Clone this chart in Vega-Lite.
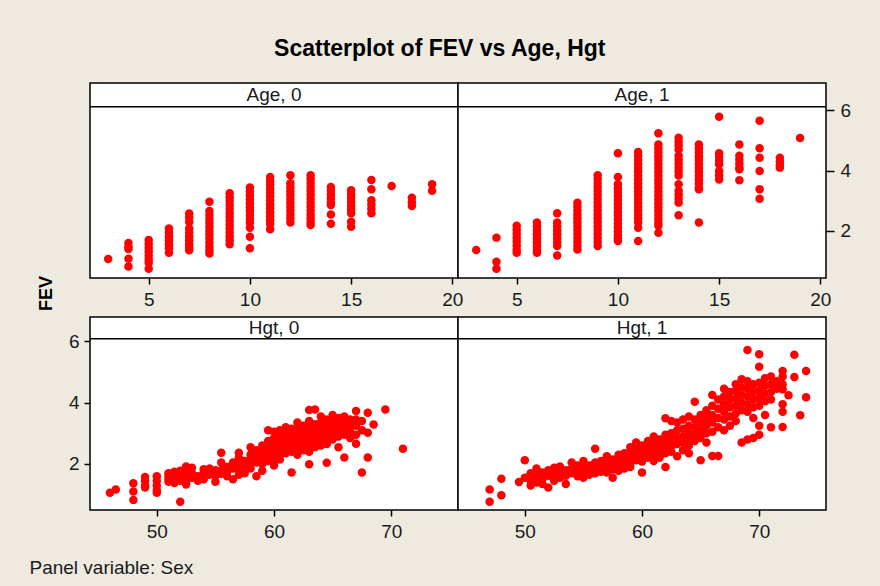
{
"$schema": "https://vega.github.io/schema/vega-lite/v6.json",
"background": "#EEEAE0",
"padding": {"left": 28, "top": 38, "right": 31, "bottom": 10},
"title": {"text": "Scatterplot of FEV vs Age, Hgt", "anchor": "middle", "frame": "bounds", "offset": 3, "baseline": "alphabetic", "font": "Liberation Sans", "fontSize": 23, "fontWeight": "bold", "color": "#000000"},
"datasets": {
"age": [
{"Sex":0,"Age":3,"FEV":1.07},
{"Sex":0,"Age":4,"FEV":1.60},{"Sex":0,"Age":4,"FEV":1.48},{"Sex":0,"Age":4,"FEV":1.40},{"Sex":0,"Age":4,"FEV":1.08},{"Sex":0,"Age":4,"FEV":0.82},
{"Sex":0,"Age":5,"FEV":1.70},{"Sex":0,"Age":5,"FEV":1.57},{"Sex":0,"Age":5,"FEV":1.44},{"Sex":0,"Age":5,"FEV":1.31},{"Sex":0,"Age":5,"FEV":1.18},{"Sex":0,"Age":5,"FEV":1.05},{"Sex":0,"Age":5,"FEV":0.95},{"Sex":0,"Age":5,"FEV":0.75},
{"Sex":0,"Age":6,"FEV":2.08},{"Sex":0,"Age":6,"FEV":1.95},{"Sex":0,"Age":6,"FEV":1.82},{"Sex":0,"Age":6,"FEV":1.69},{"Sex":0,"Age":6,"FEV":1.56},{"Sex":0,"Age":6,"FEV":1.43},{"Sex":0,"Age":6,"FEV":1.28},
{"Sex":0,"Age":7,"FEV":2.58},{"Sex":0,"Age":7,"FEV":2.45},{"Sex":0,"Age":7,"FEV":2.30},{"Sex":0,"Age":7,"FEV":2.08},{"Sex":0,"Age":7,"FEV":1.95},{"Sex":0,"Age":7,"FEV":1.82},{"Sex":0,"Age":7,"FEV":1.69},{"Sex":0,"Age":7,"FEV":1.56},{"Sex":0,"Age":7,"FEV":1.45},{"Sex":0,"Age":7,"FEV":1.36},
{"Sex":0,"Age":8,"FEV":2.97},{"Sex":0,"Age":8,"FEV":2.66},{"Sex":0,"Age":8,"FEV":2.53},{"Sex":0,"Age":8,"FEV":2.40},{"Sex":0,"Age":8,"FEV":2.27},{"Sex":0,"Age":8,"FEV":2.14},{"Sex":0,"Age":8,"FEV":2.01},{"Sex":0,"Age":8,"FEV":1.88},{"Sex":0,"Age":8,"FEV":1.75},{"Sex":0,"Age":8,"FEV":1.62},{"Sex":0,"Age":8,"FEV":1.49},{"Sex":0,"Age":8,"FEV":1.36},{"Sex":0,"Age":8,"FEV":1.25},
{"Sex":0,"Age":9,"FEV":3.25},{"Sex":0,"Age":9,"FEV":3.12},{"Sex":0,"Age":9,"FEV":2.99},{"Sex":0,"Age":9,"FEV":2.86},{"Sex":0,"Age":9,"FEV":2.73},{"Sex":0,"Age":9,"FEV":2.60},{"Sex":0,"Age":9,"FEV":2.47},{"Sex":0,"Age":9,"FEV":2.34},{"Sex":0,"Age":9,"FEV":2.21},{"Sex":0,"Age":9,"FEV":2.08},{"Sex":0,"Age":9,"FEV":1.95},{"Sex":0,"Age":9,"FEV":1.82},{"Sex":0,"Age":9,"FEV":1.69},{"Sex":0,"Age":9,"FEV":1.56},
{"Sex":0,"Age":10,"FEV":3.44},{"Sex":0,"Age":10,"FEV":3.31},{"Sex":0,"Age":10,"FEV":3.18},{"Sex":0,"Age":10,"FEV":3.05},{"Sex":0,"Age":10,"FEV":2.92},{"Sex":0,"Age":10,"FEV":2.79},{"Sex":0,"Age":10,"FEV":2.66},{"Sex":0,"Age":10,"FEV":2.53},{"Sex":0,"Age":10,"FEV":2.40},{"Sex":0,"Age":10,"FEV":2.27},{"Sex":0,"Age":10,"FEV":2.11},{"Sex":0,"Age":10,"FEV":1.81},{"Sex":0,"Age":10,"FEV":1.43},
{"Sex":0,"Age":11,"FEV":3.79},{"Sex":0,"Age":11,"FEV":3.66},{"Sex":0,"Age":11,"FEV":3.53},{"Sex":0,"Age":11,"FEV":3.40},{"Sex":0,"Age":11,"FEV":3.27},{"Sex":0,"Age":11,"FEV":3.14},{"Sex":0,"Age":11,"FEV":3.01},{"Sex":0,"Age":11,"FEV":2.88},{"Sex":0,"Age":11,"FEV":2.75},{"Sex":0,"Age":11,"FEV":2.62},{"Sex":0,"Age":11,"FEV":2.49},{"Sex":0,"Age":11,"FEV":2.36},{"Sex":0,"Age":11,"FEV":2.23},{"Sex":0,"Age":11,"FEV":2.06},
{"Sex":0,"Age":12,"FEV":3.85},{"Sex":0,"Age":12,"FEV":3.58},{"Sex":0,"Age":12,"FEV":3.45},{"Sex":0,"Age":12,"FEV":3.32},{"Sex":0,"Age":12,"FEV":3.19},{"Sex":0,"Age":12,"FEV":3.06},{"Sex":0,"Age":12,"FEV":2.93},{"Sex":0,"Age":12,"FEV":2.80},{"Sex":0,"Age":12,"FEV":2.67},{"Sex":0,"Age":12,"FEV":2.54},{"Sex":0,"Age":12,"FEV":2.41},{"Sex":0,"Age":12,"FEV":2.28},
{"Sex":0,"Age":13,"FEV":3.85},{"Sex":0,"Age":13,"FEV":3.72},{"Sex":0,"Age":13,"FEV":3.59},{"Sex":0,"Age":13,"FEV":3.46},{"Sex":0,"Age":13,"FEV":3.33},{"Sex":0,"Age":13,"FEV":3.20},{"Sex":0,"Age":13,"FEV":3.07},{"Sex":0,"Age":13,"FEV":2.94},{"Sex":0,"Age":13,"FEV":2.81},{"Sex":0,"Age":13,"FEV":2.68},{"Sex":0,"Age":13,"FEV":2.55},{"Sex":0,"Age":13,"FEV":2.42},{"Sex":0,"Age":13,"FEV":2.30},{"Sex":0,"Age":13,"FEV":2.20},
{"Sex":0,"Age":14,"FEV":3.46},{"Sex":0,"Age":14,"FEV":3.33},{"Sex":0,"Age":14,"FEV":3.20},{"Sex":0,"Age":14,"FEV":3.07},{"Sex":0,"Age":14,"FEV":2.94},{"Sex":0,"Age":14,"FEV":2.86},{"Sex":0,"Age":14,"FEV":2.55},{"Sex":0,"Age":14,"FEV":2.24},
{"Sex":0,"Age":15,"FEV":3.35},{"Sex":0,"Age":15,"FEV":3.22},{"Sex":0,"Age":15,"FEV":3.09},{"Sex":0,"Age":15,"FEV":2.96},{"Sex":0,"Age":15,"FEV":2.83},{"Sex":0,"Age":15,"FEV":2.70},{"Sex":0,"Age":15,"FEV":2.59},{"Sex":0,"Age":15,"FEV":2.31},{"Sex":0,"Age":15,"FEV":2.14},
{"Sex":0,"Age":16,"FEV":3.69},{"Sex":0,"Age":16,"FEV":3.38},{"Sex":0,"Age":16,"FEV":3.02},{"Sex":0,"Age":16,"FEV":2.88},{"Sex":0,"Age":16,"FEV":2.74},{"Sex":0,"Age":16,"FEV":2.59},
{"Sex":0,"Age":17,"FEV":3.49},
{"Sex":0,"Age":18,"FEV":3.10},{"Sex":0,"Age":18,"FEV":2.95},{"Sex":0,"Age":18,"FEV":2.83},
{"Sex":0,"Age":19,"FEV":3.55},{"Sex":0,"Age":19,"FEV":3.33},
{"Sex":1,"Age":3,"FEV":1.37},
{"Sex":1,"Age":4,"FEV":1.78},{"Sex":1,"Age":4,"FEV":0.98},{"Sex":1,"Age":4,"FEV":0.75},
{"Sex":1,"Age":5,"FEV":2.17},{"Sex":1,"Age":5,"FEV":2.04},{"Sex":1,"Age":5,"FEV":1.91},{"Sex":1,"Age":5,"FEV":1.78},{"Sex":1,"Age":5,"FEV":1.65},{"Sex":1,"Age":5,"FEV":1.52},{"Sex":1,"Age":5,"FEV":1.39},{"Sex":1,"Age":5,"FEV":1.28},
{"Sex":1,"Age":6,"FEV":2.28},{"Sex":1,"Age":6,"FEV":2.15},{"Sex":1,"Age":6,"FEV":2.02},{"Sex":1,"Age":6,"FEV":1.89},{"Sex":1,"Age":6,"FEV":1.76},{"Sex":1,"Age":6,"FEV":1.63},{"Sex":1,"Age":6,"FEV":1.50},{"Sex":1,"Age":6,"FEV":1.38},{"Sex":1,"Age":6,"FEV":1.28},
{"Sex":1,"Age":7,"FEV":2.59},{"Sex":1,"Age":7,"FEV":2.28},{"Sex":1,"Age":7,"FEV":2.15},{"Sex":1,"Age":7,"FEV":2.02},{"Sex":1,"Age":7,"FEV":1.89},{"Sex":1,"Age":7,"FEV":1.76},{"Sex":1,"Age":7,"FEV":1.63},{"Sex":1,"Age":7,"FEV":1.50},{"Sex":1,"Age":7,"FEV":1.19},
{"Sex":1,"Age":8,"FEV":2.94},{"Sex":1,"Age":8,"FEV":2.81},{"Sex":1,"Age":8,"FEV":2.68},{"Sex":1,"Age":8,"FEV":2.55},{"Sex":1,"Age":8,"FEV":2.42},{"Sex":1,"Age":8,"FEV":2.29},{"Sex":1,"Age":8,"FEV":2.16},{"Sex":1,"Age":8,"FEV":2.03},{"Sex":1,"Age":8,"FEV":1.90},{"Sex":1,"Age":8,"FEV":1.77},{"Sex":1,"Age":8,"FEV":1.64},{"Sex":1,"Age":8,"FEV":1.51},{"Sex":1,"Age":8,"FEV":1.39},
{"Sex":1,"Age":9,"FEV":3.85},{"Sex":1,"Age":9,"FEV":3.72},{"Sex":1,"Age":9,"FEV":3.59},{"Sex":1,"Age":9,"FEV":3.46},{"Sex":1,"Age":9,"FEV":3.33},{"Sex":1,"Age":9,"FEV":3.20},{"Sex":1,"Age":9,"FEV":3.07},{"Sex":1,"Age":9,"FEV":2.94},{"Sex":1,"Age":9,"FEV":2.81},{"Sex":1,"Age":9,"FEV":2.68},{"Sex":1,"Age":9,"FEV":2.55},{"Sex":1,"Age":9,"FEV":2.42},{"Sex":1,"Age":9,"FEV":2.29},{"Sex":1,"Age":9,"FEV":2.16},{"Sex":1,"Age":9,"FEV":2.03},{"Sex":1,"Age":9,"FEV":1.90},{"Sex":1,"Age":9,"FEV":1.77},{"Sex":1,"Age":9,"FEV":1.64},{"Sex":1,"Age":9,"FEV":1.50},
{"Sex":1,"Age":10,"FEV":4.58},{"Sex":1,"Age":10,"FEV":3.79},{"Sex":1,"Age":10,"FEV":3.55},{"Sex":1,"Age":10,"FEV":3.42},{"Sex":1,"Age":10,"FEV":3.29},{"Sex":1,"Age":10,"FEV":3.16},{"Sex":1,"Age":10,"FEV":3.03},{"Sex":1,"Age":10,"FEV":2.90},{"Sex":1,"Age":10,"FEV":2.77},{"Sex":1,"Age":10,"FEV":2.64},{"Sex":1,"Age":10,"FEV":2.51},{"Sex":1,"Age":10,"FEV":2.38},{"Sex":1,"Age":10,"FEV":2.25},{"Sex":1,"Age":10,"FEV":2.12},{"Sex":1,"Age":10,"FEV":1.99},{"Sex":1,"Age":10,"FEV":1.86},{"Sex":1,"Age":10,"FEV":1.75},{"Sex":1,"Age":10,"FEV":1.67},
{"Sex":1,"Age":11,"FEV":4.62},{"Sex":1,"Age":11,"FEV":4.49},{"Sex":1,"Age":11,"FEV":4.36},{"Sex":1,"Age":11,"FEV":4.23},{"Sex":1,"Age":11,"FEV":4.10},{"Sex":1,"Age":11,"FEV":3.97},{"Sex":1,"Age":11,"FEV":3.84},{"Sex":1,"Age":11,"FEV":3.71},{"Sex":1,"Age":11,"FEV":3.58},{"Sex":1,"Age":11,"FEV":3.45},{"Sex":1,"Age":11,"FEV":3.32},{"Sex":1,"Age":11,"FEV":3.19},{"Sex":1,"Age":11,"FEV":3.06},{"Sex":1,"Age":11,"FEV":2.93},{"Sex":1,"Age":11,"FEV":2.80},{"Sex":1,"Age":11,"FEV":2.67},{"Sex":1,"Age":11,"FEV":2.54},{"Sex":1,"Age":11,"FEV":2.41},{"Sex":1,"Age":11,"FEV":2.28},{"Sex":1,"Age":11,"FEV":2.11},{"Sex":1,"Age":11,"FEV":1.67},
{"Sex":1,"Age":12,"FEV":5.24},{"Sex":1,"Age":12,"FEV":4.87},{"Sex":1,"Age":12,"FEV":4.74},{"Sex":1,"Age":12,"FEV":4.61},{"Sex":1,"Age":12,"FEV":4.48},{"Sex":1,"Age":12,"FEV":4.35},{"Sex":1,"Age":12,"FEV":4.22},{"Sex":1,"Age":12,"FEV":4.09},{"Sex":1,"Age":12,"FEV":3.96},{"Sex":1,"Age":12,"FEV":3.83},{"Sex":1,"Age":12,"FEV":3.70},{"Sex":1,"Age":12,"FEV":3.57},{"Sex":1,"Age":12,"FEV":3.44},{"Sex":1,"Age":12,"FEV":3.31},{"Sex":1,"Age":12,"FEV":3.18},{"Sex":1,"Age":12,"FEV":3.05},{"Sex":1,"Age":12,"FEV":2.92},{"Sex":1,"Age":12,"FEV":2.79},{"Sex":1,"Age":12,"FEV":2.66},{"Sex":1,"Age":12,"FEV":2.53},{"Sex":1,"Age":12,"FEV":2.40},{"Sex":1,"Age":12,"FEV":2.27},{"Sex":1,"Age":12,"FEV":2.17},{"Sex":1,"Age":12,"FEV":1.94},
{"Sex":1,"Age":13,"FEV":5.09},{"Sex":1,"Age":13,"FEV":4.96},{"Sex":1,"Age":13,"FEV":4.83},{"Sex":1,"Age":13,"FEV":4.70},{"Sex":1,"Age":13,"FEV":4.49},{"Sex":1,"Age":13,"FEV":4.36},{"Sex":1,"Age":13,"FEV":4.23},{"Sex":1,"Age":13,"FEV":4.10},{"Sex":1,"Age":13,"FEV":3.97},{"Sex":1,"Age":13,"FEV":3.84},{"Sex":1,"Age":13,"FEV":3.55},{"Sex":1,"Age":13,"FEV":3.33},{"Sex":1,"Age":13,"FEV":3.20},{"Sex":1,"Age":13,"FEV":3.07},{"Sex":1,"Age":13,"FEV":2.94},{"Sex":1,"Age":13,"FEV":2.52},
{"Sex":1,"Age":14,"FEV":4.87},{"Sex":1,"Age":14,"FEV":4.74},{"Sex":1,"Age":14,"FEV":4.61},{"Sex":1,"Age":14,"FEV":4.48},{"Sex":1,"Age":14,"FEV":4.35},{"Sex":1,"Age":14,"FEV":4.22},{"Sex":1,"Age":14,"FEV":4.09},{"Sex":1,"Age":14,"FEV":3.96},{"Sex":1,"Age":14,"FEV":3.83},{"Sex":1,"Age":14,"FEV":3.70},{"Sex":1,"Age":14,"FEV":3.57},{"Sex":1,"Age":14,"FEV":3.44},{"Sex":1,"Age":14,"FEV":3.38},{"Sex":1,"Age":14,"FEV":2.28},
{"Sex":1,"Age":15,"FEV":5.79},{"Sex":1,"Age":15,"FEV":4.58},{"Sex":1,"Age":15,"FEV":4.45},{"Sex":1,"Age":15,"FEV":4.32},{"Sex":1,"Age":15,"FEV":4.21},{"Sex":1,"Age":15,"FEV":3.99},{"Sex":1,"Age":15,"FEV":3.85},{"Sex":1,"Age":15,"FEV":3.71},
{"Sex":1,"Age":16,"FEV":4.87},{"Sex":1,"Age":16,"FEV":4.49},{"Sex":1,"Age":16,"FEV":4.36},{"Sex":1,"Age":16,"FEV":4.23},{"Sex":1,"Age":16,"FEV":4.10},{"Sex":1,"Age":16,"FEV":4.05},{"Sex":1,"Age":16,"FEV":3.68},
{"Sex":1,"Age":17,"FEV":5.65},{"Sex":1,"Age":17,"FEV":4.74},{"Sex":1,"Age":17,"FEV":4.43},{"Sex":1,"Age":17,"FEV":3.99},{"Sex":1,"Age":17,"FEV":3.38},{"Sex":1,"Age":17,"FEV":3.07},
{"Sex":1,"Age":18,"FEV":4.43},{"Sex":1,"Age":18,"FEV":4.30},{"Sex":1,"Age":18,"FEV":4.18},{"Sex":1,"Age":18,"FEV":4.10},
{"Sex":1,"Age":19,"FEV":5.08}
],
"hgt": [
{"Sex":0,"Hgt":46,"FEV":1.06},{"Sex":0,"Hgt":46.5,"FEV":1.17},
{"Sex":0,"Hgt":48,"FEV":1.37},{"Sex":0,"Hgt":48,"FEV":1.10},{"Sex":0,"Hgt":48,"FEV":0.83},
{"Sex":0,"Hgt":49,"FEV":1.58},{"Sex":0,"Hgt":49,"FEV":1.45},{"Sex":0,"Hgt":49,"FEV":1.30},{"Sex":0,"Hgt":49,"FEV":1.23},
{"Sex":0,"Hgt":50,"FEV":1.60},{"Sex":0,"Hgt":50,"FEV":1.45},{"Sex":0,"Hgt":50,"FEV":1.30},{"Sex":0,"Hgt":50,"FEV":1.15},{"Sex":0,"Hgt":50,"FEV":1.06},
{"Sex":0,"Hgt":51,"FEV":1.70},{"Sex":0,"Hgt":51,"FEV":1.60},{"Sex":0,"Hgt":51,"FEV":1.50},{"Sex":0,"Hgt":51,"FEV":1.42},
{"Sex":0,"Hgt":51.5,"FEV":1.75},{"Sex":0,"Hgt":51.5,"FEV":1.55},{"Sex":0,"Hgt":51.5,"FEV":1.38},
{"Sex":0,"Hgt":52,"FEV":1.78},{"Sex":0,"Hgt":52,"FEV":1.62},{"Sex":0,"Hgt":52,"FEV":1.45},{"Sex":0,"Hgt":52,"FEV":0.77},
{"Sex":0,"Hgt":52.5,"FEV":1.92},{"Sex":0,"Hgt":52.5,"FEV":1.80},{"Sex":0,"Hgt":52.5,"FEV":1.60},{"Sex":0,"Hgt":52.5,"FEV":1.40},{"Sex":0,"Hgt":52.5,"FEV":1.33},
{"Sex":0,"Hgt":53,"FEV":1.88},{"Sex":0,"Hgt":53,"FEV":1.70},{"Sex":0,"Hgt":53,"FEV":1.55},
{"Sex":0,"Hgt":53.5,"FEV":1.60},{"Sex":0,"Hgt":53.5,"FEV":1.45},
{"Sex":0,"Hgt":54,"FEV":1.83},{"Sex":0,"Hgt":54,"FEV":1.72},{"Sex":0,"Hgt":54,"FEV":1.50},
{"Sex":0,"Hgt":54.5,"FEV":1.85},{"Sex":0,"Hgt":54.5,"FEV":1.65},
{"Sex":0,"Hgt":55,"FEV":1.80},{"Sex":0,"Hgt":55,"FEV":1.62},{"Sex":0,"Hgt":55,"FEV":1.42},
{"Sex":0,"Hgt":55.5,"FEV":2.37},{"Sex":0,"Hgt":55.5,"FEV":2.05},{"Sex":0,"Hgt":55.5,"FEV":1.80},{"Sex":0,"Hgt":55.5,"FEV":1.68},
{"Sex":0,"Hgt":56,"FEV":1.90},{"Sex":0,"Hgt":56,"FEV":1.75},{"Sex":0,"Hgt":56,"FEV":1.60},
{"Sex":0,"Hgt":56.5,"FEV":2.05},{"Sex":0,"Hgt":56.5,"FEV":1.85},{"Sex":0,"Hgt":56.5,"FEV":1.50},
{"Sex":0,"Hgt":57,"FEV":2.37},{"Sex":0,"Hgt":57,"FEV":2.20},{"Sex":0,"Hgt":57,"FEV":2.00},{"Sex":0,"Hgt":57,"FEV":1.82},{"Sex":0,"Hgt":57,"FEV":1.65},
{"Sex":0,"Hgt":57.5,"FEV":2.10},{"Sex":0,"Hgt":57.5,"FEV":1.95},{"Sex":0,"Hgt":57.5,"FEV":1.70},
{"Sex":0,"Hgt":58,"FEV":2.55},{"Sex":0,"Hgt":58,"FEV":2.30},{"Sex":0,"Hgt":58,"FEV":2.15},{"Sex":0,"Hgt":58,"FEV":2.00},{"Sex":0,"Hgt":58,"FEV":1.85},
{"Sex":0,"Hgt":58.5,"FEV":2.45},{"Sex":0,"Hgt":58.5,"FEV":2.25},{"Sex":0,"Hgt":58.5,"FEV":2.05},{"Sex":0,"Hgt":58.5,"FEV":1.60},
{"Sex":0,"Hgt":59,"FEV":2.60},{"Sex":0,"Hgt":59,"FEV":2.40},{"Sex":0,"Hgt":59,"FEV":2.20},{"Sex":0,"Hgt":59,"FEV":2.00},{"Sex":0,"Hgt":59,"FEV":1.78},
{"Sex":0,"Hgt":59.5,"FEV":3.10},{"Sex":0,"Hgt":59.5,"FEV":2.75},{"Sex":0,"Hgt":59.5,"FEV":2.55},{"Sex":0,"Hgt":59.5,"FEV":2.35},{"Sex":0,"Hgt":59.5,"FEV":2.10},
{"Sex":0,"Hgt":60,"FEV":3.05},{"Sex":0,"Hgt":60,"FEV":2.85},{"Sex":0,"Hgt":60,"FEV":2.65},{"Sex":0,"Hgt":60,"FEV":2.45},{"Sex":0,"Hgt":60,"FEV":2.25},{"Sex":0,"Hgt":60,"FEV":2.05},{"Sex":0,"Hgt":60,"FEV":1.95},
{"Sex":0,"Hgt":60.5,"FEV":3.10},{"Sex":0,"Hgt":60.5,"FEV":2.90},{"Sex":0,"Hgt":60.5,"FEV":2.70},{"Sex":0,"Hgt":60.5,"FEV":2.50},{"Sex":0,"Hgt":60.5,"FEV":2.30},{"Sex":0,"Hgt":60.5,"FEV":2.15},
{"Sex":0,"Hgt":61,"FEV":3.20},{"Sex":0,"Hgt":61,"FEV":3.00},{"Sex":0,"Hgt":61,"FEV":2.80},{"Sex":0,"Hgt":61,"FEV":2.65},{"Sex":0,"Hgt":61,"FEV":2.50},{"Sex":0,"Hgt":61,"FEV":2.35},
{"Sex":0,"Hgt":61.5,"FEV":3.15},{"Sex":0,"Hgt":61.5,"FEV":2.95},{"Sex":0,"Hgt":61.5,"FEV":2.78},{"Sex":0,"Hgt":61.5,"FEV":2.60},{"Sex":0,"Hgt":61.5,"FEV":2.40},{"Sex":0,"Hgt":61.5,"FEV":1.72},
{"Sex":0,"Hgt":62,"FEV":3.35},{"Sex":0,"Hgt":62,"FEV":3.15},{"Sex":0,"Hgt":62,"FEV":3.00},{"Sex":0,"Hgt":62,"FEV":2.85},{"Sex":0,"Hgt":62,"FEV":2.70},{"Sex":0,"Hgt":62,"FEV":2.55},{"Sex":0,"Hgt":62,"FEV":2.30},
{"Sex":0,"Hgt":62.5,"FEV":3.25},{"Sex":0,"Hgt":62.5,"FEV":3.05},{"Sex":0,"Hgt":62.5,"FEV":2.90},{"Sex":0,"Hgt":62.5,"FEV":2.75},{"Sex":0,"Hgt":62.5,"FEV":2.60},{"Sex":0,"Hgt":62.5,"FEV":2.45},
{"Sex":0,"Hgt":63,"FEV":3.76},{"Sex":0,"Hgt":63,"FEV":3.40},{"Sex":0,"Hgt":63,"FEV":3.20},{"Sex":0,"Hgt":63,"FEV":3.00},{"Sex":0,"Hgt":63,"FEV":2.85},{"Sex":0,"Hgt":63,"FEV":2.65},{"Sex":0,"Hgt":63,"FEV":2.40},{"Sex":0,"Hgt":63,"FEV":1.99},
{"Sex":0,"Hgt":63.5,"FEV":3.78},{"Sex":0,"Hgt":63.5,"FEV":3.30},{"Sex":0,"Hgt":63.5,"FEV":3.10},{"Sex":0,"Hgt":63.5,"FEV":2.95},{"Sex":0,"Hgt":63.5,"FEV":2.75},{"Sex":0,"Hgt":63.5,"FEV":2.55},
{"Sex":0,"Hgt":64,"FEV":3.55},{"Sex":0,"Hgt":64,"FEV":3.35},{"Sex":0,"Hgt":64,"FEV":3.15},{"Sex":0,"Hgt":64,"FEV":2.95},{"Sex":0,"Hgt":64,"FEV":2.80},{"Sex":0,"Hgt":64,"FEV":2.60},
{"Sex":0,"Hgt":64.5,"FEV":3.45},{"Sex":0,"Hgt":64.5,"FEV":3.25},{"Sex":0,"Hgt":64.5,"FEV":3.05},{"Sex":0,"Hgt":64.5,"FEV":2.85},{"Sex":0,"Hgt":64.5,"FEV":2.65},{"Sex":0,"Hgt":64.5,"FEV":2.04},
{"Sex":0,"Hgt":65,"FEV":3.60},{"Sex":0,"Hgt":65,"FEV":3.40},{"Sex":0,"Hgt":65,"FEV":3.20},{"Sex":0,"Hgt":65,"FEV":3.00},{"Sex":0,"Hgt":65,"FEV":2.80},
{"Sex":0,"Hgt":65.5,"FEV":3.50},{"Sex":0,"Hgt":65.5,"FEV":3.30},{"Sex":0,"Hgt":65.5,"FEV":3.10},{"Sex":0,"Hgt":65.5,"FEV":2.90},{"Sex":0,"Hgt":65.5,"FEV":2.55},
{"Sex":0,"Hgt":66,"FEV":3.55},{"Sex":0,"Hgt":66,"FEV":3.35},{"Sex":0,"Hgt":66,"FEV":3.15},{"Sex":0,"Hgt":66,"FEV":2.95},{"Sex":0,"Hgt":66,"FEV":2.21},
{"Sex":0,"Hgt":66.5,"FEV":3.45},{"Sex":0,"Hgt":66.5,"FEV":3.25},{"Sex":0,"Hgt":66.5,"FEV":3.05},{"Sex":0,"Hgt":66.5,"FEV":2.85},
{"Sex":0,"Hgt":67,"FEV":3.73},{"Sex":0,"Hgt":67,"FEV":3.45},{"Sex":0,"Hgt":67,"FEV":3.25},{"Sex":0,"Hgt":67,"FEV":2.95},{"Sex":0,"Hgt":67,"FEV":2.66},
{"Sex":0,"Hgt":67.5,"FEV":3.40},{"Sex":0,"Hgt":67.5,"FEV":3.10},{"Sex":0,"Hgt":67.5,"FEV":1.72},
{"Sex":0,"Hgt":68,"FEV":3.67},{"Sex":0,"Hgt":68,"FEV":3.02},{"Sex":0,"Hgt":68,"FEV":2.21},
{"Sex":0,"Hgt":68.5,"FEV":3.29},{"Sex":0,"Hgt":69.5,"FEV":3.78},{"Sex":0,"Hgt":71,"FEV":2.50},
{"Sex":1,"Hgt":47,"FEV":1.17},{"Sex":1,"Hgt":47,"FEV":0.77},
{"Sex":1,"Hgt":48,"FEV":1.52},{"Sex":1,"Hgt":48,"FEV":0.98},
{"Sex":1,"Hgt":49.5,"FEV":1.41},
{"Sex":1,"Hgt":50,"FEV":2.12},{"Sex":1,"Hgt":50,"FEV":1.55},
{"Sex":1,"Hgt":50.5,"FEV":1.70},{"Sex":1,"Hgt":50.5,"FEV":1.45},{"Sex":1,"Hgt":50.5,"FEV":1.30},
{"Sex":1,"Hgt":51,"FEV":1.85},{"Sex":1,"Hgt":51,"FEV":1.60},{"Sex":1,"Hgt":51,"FEV":1.40},
{"Sex":1,"Hgt":51.5,"FEV":1.72},{"Sex":1,"Hgt":51.5,"FEV":1.50},{"Sex":1,"Hgt":51.5,"FEV":1.35},
{"Sex":1,"Hgt":52,"FEV":1.80},{"Sex":1,"Hgt":52,"FEV":1.62},{"Sex":1,"Hgt":52,"FEV":1.23},
{"Sex":1,"Hgt":52.5,"FEV":1.88},{"Sex":1,"Hgt":52.5,"FEV":1.65},{"Sex":1,"Hgt":52.5,"FEV":1.45},
{"Sex":1,"Hgt":53,"FEV":1.92},{"Sex":1,"Hgt":53,"FEV":1.75},{"Sex":1,"Hgt":53,"FEV":1.55},
{"Sex":1,"Hgt":53.5,"FEV":1.80},{"Sex":1,"Hgt":53.5,"FEV":1.62},{"Sex":1,"Hgt":53.5,"FEV":1.35},
{"Sex":1,"Hgt":54,"FEV":2.05},{"Sex":1,"Hgt":54,"FEV":1.85},{"Sex":1,"Hgt":54,"FEV":1.70},
{"Sex":1,"Hgt":54.5,"FEV":1.95},{"Sex":1,"Hgt":54.5,"FEV":1.78},{"Sex":1,"Hgt":54.5,"FEV":1.60},
{"Sex":1,"Hgt":55,"FEV":2.10},{"Sex":1,"Hgt":55,"FEV":1.90},{"Sex":1,"Hgt":55,"FEV":1.75},{"Sex":1,"Hgt":55,"FEV":1.55},
{"Sex":1,"Hgt":55.5,"FEV":1.95},{"Sex":1,"Hgt":55.5,"FEV":1.80},{"Sex":1,"Hgt":55.5,"FEV":1.65},
{"Sex":1,"Hgt":56,"FEV":2.50},{"Sex":1,"Hgt":56,"FEV":2.05},{"Sex":1,"Hgt":56,"FEV":1.88},{"Sex":1,"Hgt":56,"FEV":1.70},
{"Sex":1,"Hgt":56.5,"FEV":2.10},{"Sex":1,"Hgt":56.5,"FEV":1.92},{"Sex":1,"Hgt":56.5,"FEV":1.75},
{"Sex":1,"Hgt":57,"FEV":2.25},{"Sex":1,"Hgt":57,"FEV":2.05},{"Sex":1,"Hgt":57,"FEV":1.88},{"Sex":1,"Hgt":57,"FEV":1.72},
{"Sex":1,"Hgt":57.5,"FEV":2.15},{"Sex":1,"Hgt":57.5,"FEV":2.00},{"Sex":1,"Hgt":57.5,"FEV":1.82},{"Sex":1,"Hgt":57.5,"FEV":1.55},
{"Sex":1,"Hgt":58,"FEV":2.30},{"Sex":1,"Hgt":58,"FEV":2.12},{"Sex":1,"Hgt":58,"FEV":1.95},{"Sex":1,"Hgt":58,"FEV":1.78},
{"Sex":1,"Hgt":58.5,"FEV":2.35},{"Sex":1,"Hgt":58.5,"FEV":2.18},{"Sex":1,"Hgt":58.5,"FEV":2.00},{"Sex":1,"Hgt":58.5,"FEV":1.85},
{"Sex":1,"Hgt":59,"FEV":2.55},{"Sex":1,"Hgt":59,"FEV":2.40},{"Sex":1,"Hgt":59,"FEV":2.22},{"Sex":1,"Hgt":59,"FEV":2.05},{"Sex":1,"Hgt":59,"FEV":1.90},
{"Sex":1,"Hgt":59.5,"FEV":2.70},{"Sex":1,"Hgt":59.5,"FEV":2.50},{"Sex":1,"Hgt":59.5,"FEV":2.30},{"Sex":1,"Hgt":59.5,"FEV":2.12},
{"Sex":1,"Hgt":60,"FEV":2.60},{"Sex":1,"Hgt":60,"FEV":2.42},{"Sex":1,"Hgt":60,"FEV":2.25},{"Sex":1,"Hgt":60,"FEV":2.08},{"Sex":1,"Hgt":60,"FEV":1.72},
{"Sex":1,"Hgt":60.5,"FEV":2.75},{"Sex":1,"Hgt":60.5,"FEV":2.55},{"Sex":1,"Hgt":60.5,"FEV":2.38},{"Sex":1,"Hgt":60.5,"FEV":2.20},
{"Sex":1,"Hgt":61,"FEV":2.90},{"Sex":1,"Hgt":61,"FEV":2.65},{"Sex":1,"Hgt":61,"FEV":2.45},{"Sex":1,"Hgt":61,"FEV":2.28},{"Sex":1,"Hgt":61,"FEV":2.10},
{"Sex":1,"Hgt":61.5,"FEV":2.80},{"Sex":1,"Hgt":61.5,"FEV":2.60},{"Sex":1,"Hgt":61.5,"FEV":2.40},{"Sex":1,"Hgt":61.5,"FEV":2.20},
{"Sex":1,"Hgt":62,"FEV":3.49},{"Sex":1,"Hgt":62,"FEV":2.95},{"Sex":1,"Hgt":62,"FEV":2.75},{"Sex":1,"Hgt":62,"FEV":2.55},{"Sex":1,"Hgt":62,"FEV":2.35},{"Sex":1,"Hgt":62,"FEV":1.90},
{"Sex":1,"Hgt":62.5,"FEV":3.40},{"Sex":1,"Hgt":62.5,"FEV":3.00},{"Sex":1,"Hgt":62.5,"FEV":2.78},{"Sex":1,"Hgt":62.5,"FEV":2.58},{"Sex":1,"Hgt":62.5,"FEV":2.40},
{"Sex":1,"Hgt":63,"FEV":3.35},{"Sex":1,"Hgt":63,"FEV":3.10},{"Sex":1,"Hgt":63,"FEV":2.85},{"Sex":1,"Hgt":63,"FEV":2.65},{"Sex":1,"Hgt":63,"FEV":2.25},
{"Sex":1,"Hgt":63.5,"FEV":3.45},{"Sex":1,"Hgt":63.5,"FEV":3.15},{"Sex":1,"Hgt":63.5,"FEV":2.90},{"Sex":1,"Hgt":63.5,"FEV":2.70},{"Sex":1,"Hgt":63.5,"FEV":2.45},
{"Sex":1,"Hgt":64,"FEV":3.55},{"Sex":1,"Hgt":64,"FEV":3.25},{"Sex":1,"Hgt":64,"FEV":3.00},{"Sex":1,"Hgt":64,"FEV":2.80},{"Sex":1,"Hgt":64,"FEV":2.60},{"Sex":1,"Hgt":64,"FEV":2.35},
{"Sex":1,"Hgt":64.5,"FEV":4.03},{"Sex":1,"Hgt":64.5,"FEV":3.45},{"Sex":1,"Hgt":64.5,"FEV":3.20},{"Sex":1,"Hgt":64.5,"FEV":2.95},{"Sex":1,"Hgt":64.5,"FEV":2.75},
{"Sex":1,"Hgt":65,"FEV":3.60},{"Sex":1,"Hgt":65,"FEV":3.35},{"Sex":1,"Hgt":65,"FEV":3.10},{"Sex":1,"Hgt":65,"FEV":2.85},{"Sex":1,"Hgt":65,"FEV":2.12},
{"Sex":1,"Hgt":65.5,"FEV":3.75},{"Sex":1,"Hgt":65.5,"FEV":3.50},{"Sex":1,"Hgt":65.5,"FEV":3.25},{"Sex":1,"Hgt":65.5,"FEV":3.00},{"Sex":1,"Hgt":65.5,"FEV":2.70},
{"Sex":1,"Hgt":66,"FEV":4.25},{"Sex":1,"Hgt":66,"FEV":3.90},{"Sex":1,"Hgt":66,"FEV":3.60},{"Sex":1,"Hgt":66,"FEV":3.35},{"Sex":1,"Hgt":66,"FEV":3.05},{"Sex":1,"Hgt":66,"FEV":2.26},
{"Sex":1,"Hgt":66.5,"FEV":4.10},{"Sex":1,"Hgt":66.5,"FEV":3.80},{"Sex":1,"Hgt":66.5,"FEV":3.50},{"Sex":1,"Hgt":66.5,"FEV":3.20},{"Sex":1,"Hgt":66.5,"FEV":2.26},
{"Sex":1,"Hgt":67,"FEV":4.45},{"Sex":1,"Hgt":67,"FEV":4.20},{"Sex":1,"Hgt":67,"FEV":3.95},{"Sex":1,"Hgt":67,"FEV":3.70},{"Sex":1,"Hgt":67,"FEV":3.45},{"Sex":1,"Hgt":67,"FEV":3.10},
{"Sex":1,"Hgt":67.5,"FEV":4.35},{"Sex":1,"Hgt":67.5,"FEV":4.10},{"Sex":1,"Hgt":67.5,"FEV":3.85},{"Sex":1,"Hgt":67.5,"FEV":3.55},{"Sex":1,"Hgt":67.5,"FEV":3.25},
{"Sex":1,"Hgt":68,"FEV":4.60},{"Sex":1,"Hgt":68,"FEV":4.40},{"Sex":1,"Hgt":68,"FEV":4.15},{"Sex":1,"Hgt":68,"FEV":3.90},{"Sex":1,"Hgt":68,"FEV":3.65},{"Sex":1,"Hgt":68,"FEV":3.40},
{"Sex":1,"Hgt":68.5,"FEV":4.76},{"Sex":1,"Hgt":68.5,"FEV":4.50},{"Sex":1,"Hgt":68.5,"FEV":4.25},{"Sex":1,"Hgt":68.5,"FEV":4.00},{"Sex":1,"Hgt":68.5,"FEV":3.75},{"Sex":1,"Hgt":68.5,"FEV":2.70},
{"Sex":1,"Hgt":69,"FEV":5.72},{"Sex":1,"Hgt":69,"FEV":4.70},{"Sex":1,"Hgt":69,"FEV":4.45},{"Sex":1,"Hgt":69,"FEV":4.20},{"Sex":1,"Hgt":69,"FEV":3.95},{"Sex":1,"Hgt":69,"FEV":3.70},{"Sex":1,"Hgt":69,"FEV":2.80},
{"Sex":1,"Hgt":69.5,"FEV":4.60},{"Sex":1,"Hgt":69.5,"FEV":4.35},{"Sex":1,"Hgt":69.5,"FEV":4.10},{"Sex":1,"Hgt":69.5,"FEV":3.85},{"Sex":1,"Hgt":69.5,"FEV":3.50},{"Sex":1,"Hgt":69.5,"FEV":2.85},
{"Sex":1,"Hgt":70,"FEV":5.58},{"Sex":1,"Hgt":70,"FEV":5.17},{"Sex":1,"Hgt":70,"FEV":4.65},{"Sex":1,"Hgt":70,"FEV":4.40},{"Sex":1,"Hgt":70,"FEV":4.15},{"Sex":1,"Hgt":70,"FEV":3.90},{"Sex":1,"Hgt":70,"FEV":3.25},{"Sex":1,"Hgt":70,"FEV":2.95},
{"Sex":1,"Hgt":70.5,"FEV":4.80},{"Sex":1,"Hgt":70.5,"FEV":4.55},{"Sex":1,"Hgt":70.5,"FEV":4.30},{"Sex":1,"Hgt":70.5,"FEV":4.05},{"Sex":1,"Hgt":70.5,"FEV":3.60},
{"Sex":1,"Hgt":71,"FEV":4.85},{"Sex":1,"Hgt":71,"FEV":4.60},{"Sex":1,"Hgt":71,"FEV":4.35},{"Sex":1,"Hgt":71,"FEV":4.10},{"Sex":1,"Hgt":71,"FEV":3.20},
{"Sex":1,"Hgt":71.5,"FEV":4.70},{"Sex":1,"Hgt":71.5,"FEV":4.45},
{"Sex":1,"Hgt":72,"FEV":5.03},{"Sex":1,"Hgt":72,"FEV":4.85},{"Sex":1,"Hgt":72,"FEV":4.60},{"Sex":1,"Hgt":72,"FEV":4.44},{"Sex":1,"Hgt":72,"FEV":3.95},{"Sex":1,"Hgt":72,"FEV":3.70},{"Sex":1,"Hgt":72,"FEV":3.21},
{"Sex":1,"Hgt":72.5,"FEV":4.24},
{"Sex":1,"Hgt":73,"FEV":5.56},{"Sex":1,"Hgt":73,"FEV":4.84},
{"Sex":1,"Hgt":73.5,"FEV":3.59},
{"Sex":1,"Hgt":74,"FEV":5.03},{"Sex":1,"Hgt":74,"FEV":4.18}
]
},
"columns": 2,
"bounds": "flush",
"spacing": {"row": 39, "column": 0},
"concat": [
{
 "width": 368, "height": 195,
 "layer": [
  {"data": {"name": "age"}, "transform": [{"filter": "datum.Sex == 0"}],
   "mark": {"type": "circle", "size": 72, "color": "#FF0000", "opacity": 1},
   "encoding": {
    "x": {"field": "Age", "type": "quantitative", "scale": {"domain": [2.1, 20.28], "nice": false, "zero": false}, "axis": {"values": [5, 10, 15, 20], "title": null}},
    "y": {"field": "FEV", "type": "quantitative", "scale": {"domain": [0.442, 6.905], "nice": false, "zero": false}, "axis": null}
   }},
  {"data": {"values": [{}]}, "mark": {"type": "rule", "color": "#000000", "strokeWidth": 1.5}, "encoding": {"y": {"datum": 6.12, "type": "quantitative", "axis": null}}},
  {"data": {"values": [{"label": "Age, 0"}]}, "mark": {"type": "text", "font": "Liberation Sans", "fontSize": 19, "color": "#1a1a1a", "align": "center", "baseline": "middle"},
   "encoding": {"text": {"field": "label"}, "x": {"datum": 11.19, "type": "quantitative", "axis": {"values": [5, 10, 15, 20], "title": null}}, "y": {"datum": 6.51, "type": "quantitative", "axis": null}}}
 ]
},
{
 "width": 368, "height": 195,
 "layer": [
  {"data": {"name": "age"}, "transform": [{"filter": "datum.Sex == 1"}],
   "mark": {"type": "circle", "size": 72, "color": "#FF0000", "opacity": 1},
   "encoding": {
    "x": {"field": "Age", "type": "quantitative", "scale": {"domain": [2.1, 20.28], "nice": false, "zero": false}, "axis": {"values": [5, 10, 15, 20], "title": null}},
    "y": {"field": "FEV", "type": "quantitative", "scale": {"domain": [0.442, 6.905], "nice": false, "zero": false}, "axis": {"orient": "right", "values": [2, 4, 6], "title": null, "tickSize": 8, "labelPadding": 6}}
   }},
  {"data": {"values": [{}]}, "mark": {"type": "rule", "color": "#000000", "strokeWidth": 1.5}, "encoding": {"y": {"datum": 6.12, "type": "quantitative", "axis": {"orient": "right", "values": [2, 4, 6], "title": null, "tickSize": 8, "labelPadding": 6}}}},
  {"data": {"values": [{"label": "Age, 1"}]}, "mark": {"type": "text", "font": "Liberation Sans", "fontSize": 19, "color": "#1a1a1a", "align": "center", "baseline": "middle"},
   "encoding": {"text": {"field": "label"}, "x": {"datum": 11.19, "type": "quantitative", "axis": {"values": [5, 10, 15, 20], "title": null}}, "y": {"datum": 6.51, "type": "quantitative", "axis": {"orient": "right", "values": [2, 4, 6], "title": null, "tickSize": 8, "labelPadding": 6}}}}
 ]
},
{
 "width": 368, "height": 193,
 "layer": [
  {"data": {"name": "hgt"}, "transform": [{"filter": "datum.Sex == 0"}],
   "mark": {"type": "circle", "size": 72, "color": "#FF0000", "opacity": 1},
   "encoding": {
    "x": {"field": "Hgt", "type": "quantitative", "scale": {"domain": [44.3, 75.7], "nice": false, "zero": false}, "axis": {"values": [50, 60, 70], "title": "Panel variable: Sex", "titleX": -61, "titleY": 63, "titleAlign": "left", "titleBaseline": "alphabetic", "titleFont": "Liberation Sans", "titleFontSize": 19, "titleFontWeight": "normal", "titleColor": "#1a1a1a"}},
    "y": {"field": "FEV", "type": "quantitative", "scale": {"domain": [0.5, 6.793], "nice": false, "zero": false}, "axis": {"values": [2, 4, 6], "title": "FEV", "tickSize": 6, "labelPadding": 5, "titleX": -44, "titleY": -24, "titleAngle": 270, "titleAlign": "center", "titleBaseline": "middle", "titleFont": "Liberation Sans", "titleFontSize": 18, "titleFontWeight": "bold", "titleColor": "#000000"}}
   }},
  {"data": {"values": [{}]}, "mark": {"type": "rule", "color": "#000000", "strokeWidth": 1.5}, "encoding": {"y": {"datum": 6.085, "type": "quantitative", "axis": {"values": [2, 4, 6], "title": "FEV", "tickSize": 6, "labelPadding": 5, "titleX": -44, "titleY": -24, "titleAngle": 270, "titleAlign": "center", "titleBaseline": "middle", "titleFont": "Liberation Sans", "titleFontSize": 18, "titleFontWeight": "bold", "titleColor": "#000000"}}}},
  {"data": {"values": [{"label": "Hgt, 0"}]}, "mark": {"type": "text", "font": "Liberation Sans", "fontSize": 19, "color": "#1a1a1a", "align": "center", "baseline": "middle"},
   "encoding": {"text": {"field": "label"},
    "x": {"datum": 60, "type": "quantitative", "axis": {"values": [50, 60, 70], "title": "Panel variable: Sex", "titleX": -61, "titleY": 63, "titleAlign": "left", "titleBaseline": "alphabetic", "titleFont": "Liberation Sans", "titleFontSize": 19, "titleFontWeight": "normal", "titleColor": "#1a1a1a"}},
    "y": {"datum": 6.434, "type": "quantitative", "axis": {"values": [2, 4, 6], "title": "FEV", "tickSize": 6, "labelPadding": 5, "titleX": -44, "titleY": -24, "titleAngle": 270, "titleAlign": "center", "titleBaseline": "middle", "titleFont": "Liberation Sans", "titleFontSize": 18, "titleFontWeight": "bold", "titleColor": "#000000"}}}}
 ]
},
{
 "width": 368, "height": 193,
 "layer": [
  {"data": {"name": "hgt"}, "transform": [{"filter": "datum.Sex == 1"}],
   "mark": {"type": "circle", "size": 72, "color": "#FF0000", "opacity": 1},
   "encoding": {
    "x": {"field": "Hgt", "type": "quantitative", "scale": {"domain": [44.3, 75.7], "nice": false, "zero": false}, "axis": {"values": [50, 60, 70], "title": null}},
    "y": {"field": "FEV", "type": "quantitative", "scale": {"domain": [0.5, 6.793], "nice": false, "zero": false}, "axis": null}
   }},
  {"data": {"values": [{}]}, "mark": {"type": "rule", "color": "#000000", "strokeWidth": 1.5}, "encoding": {"y": {"datum": 6.085, "type": "quantitative", "axis": null}}},
  {"data": {"values": [{"label": "Hgt, 1"}]}, "mark": {"type": "text", "font": "Liberation Sans", "fontSize": 19, "color": "#1a1a1a", "align": "center", "baseline": "middle"},
   "encoding": {"text": {"field": "label"}, "x": {"datum": 60, "type": "quantitative", "axis": {"values": [50, 60, 70], "title": null}}, "y": {"datum": 6.434, "type": "quantitative", "axis": null}}}
 ]
}
],
"config": {
 "view": {"stroke": "#000000", "strokeWidth": 1.5, "fill": "#FFFFFF"},
 "axis": {"grid": false, "domain": false, "ticks": true, "tickColor": "#000000", "tickWidth": 1.5, "tickSize": 6, "labelFont": "Liberation Sans", "labelFontSize": 19, "labelColor": "#1a1a1a", "labelPadding": 6, "labelFlush": false, "labelOverlap": false}
}
}
